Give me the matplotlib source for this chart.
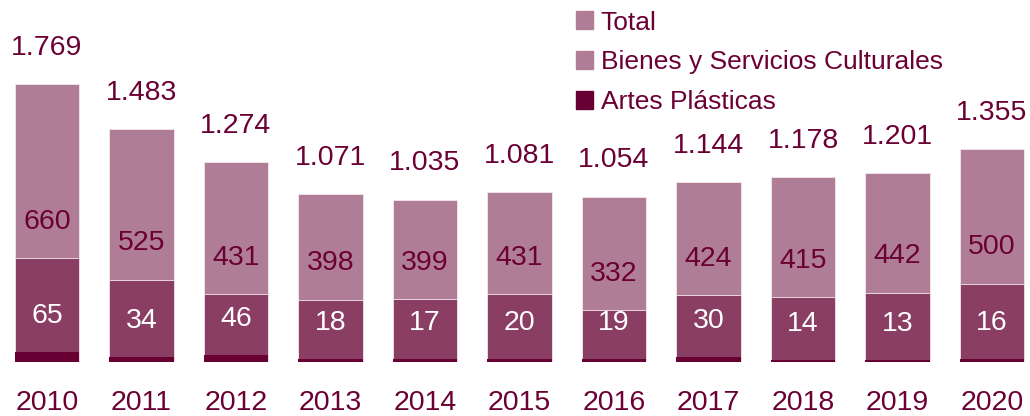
import matplotlib
matplotlib.use("Agg")
import matplotlib.pyplot as plt
from matplotlib.patches import Patch
import numpy as np

plt.rcParams['font.family'] = ['Liberation Sans', 'DejaVu Sans']

years = ['2010', '2011', '2012', '2013', '2014', '2015', '2016', '2017', '2018', '2019', '2020']
total = [1769, 1483, 1274, 1071, 1035, 1081, 1054, 1144, 1178, 1201, 1355]
bienes = [660, 525, 431, 398, 399, 431, 332, 424, 415, 442, 500]
artes = [65, 34, 46, 18, 17, 20, 19, 30, 14, 13, 16]

c_total = '#b07d97'
c_bienes = '#8b3e63'
c_artes = '#680033'
c_text = '#6b0034'

def fmt(v):
    return f"{v:,}".replace(',', '.')

fig = plt.figure(figsize=(10.3, 4.16), dpi=100)
ax = fig.add_axes([0, 54 / 416, 1, 362 / 416])

x = np.arange(len(years))
w = 0.68
ax.bar(x, total, w, color=c_total, edgecolor='#f4e8ee', linewidth=0.6, zorder=1)
ax.bar(x, bienes, w, color=c_bienes, edgecolor='#f4e8ee', linewidth=0.6, zorder=2)
ax.bar(x, artes, w, color=c_artes, linewidth=0, zorder=3)

fs = 20.5
off = 26  # points above bar top
for i in range(len(years)):
    ax.annotate(fmt(total[i]), (x[i], total[i]), xytext=(0, off), textcoords='offset points',
                ha='center', va='center', fontsize=fs, color=c_text)
    ax.annotate(fmt(bienes[i]), (x[i], bienes[i]), xytext=(0, off), textcoords='offset points',
                ha='center', va='center', fontsize=fs, color=c_text, zorder=5)
    ax.annotate(fmt(artes[i]), (x[i], artes[i]), xytext=(0, off), textcoords='offset points',
                ha='center', va='center', fontsize=fs, color='white', zorder=5)

ax.set_xlim(-47 / 94.5, (1030 - 47) / 94.5)
ax.set_ylim(0, 362 / 0.157)
ax.set_xticks(x)
ax.set_xticklabels(years, fontsize=fs, color=c_text)
ax.tick_params(axis='x', length=0, pad=20)
ax.set_yticks([])
for s in ax.spines.values():
    s.set_visible(False)
ax.patch.set_visible(False)

handles = [Patch(color=c_total), Patch(color=c_total), Patch(color=c_artes)]
labels = ['Total', 'Bienes y Servicios Culturales', 'Artes Plásticas']
leg = fig.legend(handles, labels, loc='upper left', bbox_to_anchor=(565 / 1030, 1.0),
                 frameon=False, fontsize=19, handlelength=0.65, handleheight=0.65,
                 handletextpad=0.3, labelspacing=0.6, borderaxespad=0)
for t in leg.get_texts():
    t.set_color(c_text)

fig.savefig('out.png', dpi=100)
